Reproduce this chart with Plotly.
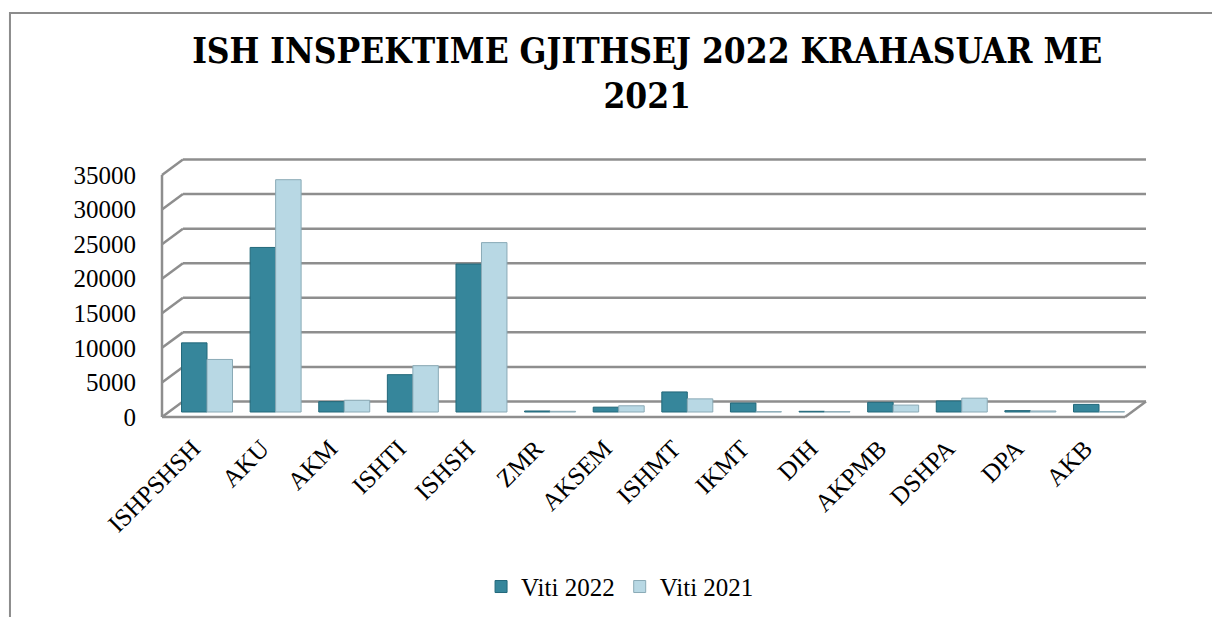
import plotly.graph_objects as go

categories = ["ISHPSHSH", "AKU", "AKM", "ISHTI", "ISHSH", "ZMR", "AKSEM",
              "ISHMT", "IKMT", "DIH", "AKPMB", "DSHPA", "DPA", "AKB"]
viti_2022 = [10000, 23800, 1500, 5400, 21400, 150, 700, 2900, 1300, 100, 1400, 1600, 200, 1100]
viti_2021 = [7600, 33600, 1700, 6700, 24500, 100, 900, 1900, 50, 50, 1000, 2000, 150, 50]
y_ticks = [0, 5000, 10000, 15000, 20000, 25000, 30000, 35000]

title_text = "ISH INSPEKTIME GJITHSEJ 2022 KRAHASUAR ME<br>2021"
FONT = "Liberation Serif"
TITLE_FONT = "DejaVu Serif Condensed, DejaVu Serif, Liberation Serif, serif"

C2022 = "#36869b"
C2021 = "#b8d8e4"
GRID = "#8e8e8e"

fig = go.Figure()
fig.add_trace(go.Bar(x=categories, y=viti_2022, name="Viti 2022",
                     marker=dict(color=C2022, line=dict(color="#22687a", width=1))))
fig.add_trace(go.Bar(x=categories, y=viti_2021, name="Viti 2021",
                     marker=dict(color=C2021, line=dict(color="#8aaab6", width=1))))

# pseudo-3D frame (back wall gridlines, left wall diagonals, floor)
depth_x = 0.0213      # fraction of plot width
depth_y = 2240        # axis units (front -> back)
shapes = []
for v in y_ticks:
    shapes.append(dict(type="line", xref="x domain", yref="y2", x0=0, y0=v, x1=depth_x, y1=v + depth_y,
                       line=dict(color=GRID, width=2.5), layer="below"))
    shapes.append(dict(type="line", xref="x domain", yref="y2", x0=depth_x, y0=v + depth_y, x1=1, y1=v + depth_y,
                       line=dict(color=GRID, width=2.5), layer="below"))
# front left edge
shapes.append(dict(type="line", xref="x domain", yref="y2", x0=0, y0=0, x1=0, y1=y_ticks[-1],
                   line=dict(color=GRID, width=2.5), layer="below"))
# floor front edge and right diagonal
shapes.append(dict(type="line", xref="x domain", yref="y2", x0=0, y0=0, x1=0.9787, y1=0,
                   line=dict(color=GRID, width=2.5), layer="below"))
shapes.append(dict(type="line", xref="x domain", yref="y2", x0=0.9787, y0=0, x1=1, y1=depth_y,
                   line=dict(color=GRID, width=2.5), layer="below"))
# outer chart border (left and top)
shapes.append(dict(type="path", xref="paper", yref="paper",
                   path="M -0.1545 -0.8 L -0.1545 1.5037 L 1.2 1.5037",
                   line=dict(color="#8c8c8c", width=2)))

fig.update_layout(
    width=1212, height=617,
    margin=dict(l=162, r=66, t=150, b=195),
    paper_bgcolor="white", plot_bgcolor="white",
    font=dict(family=FONT, size=25, color="black"),
    title=dict(text=title_text, font=dict(family=TITLE_FONT, size=35, color="black", weight=700),
               x=0.534, xref="container", xanchor="center", y=0.898, yref="container", yanchor="middle"),
    barmode="group", bargap=0.257, bargroupgap=0,
    showlegend=True,
    legend=dict(orientation="h", x=0.5116, xref="container", xanchor="center",
                y=0.049, yref="container", yanchor="middle",
                font=dict(family=FONT, size=25), itemwidth=30, traceorder="normal"),
    xaxis=dict(type="category", range=[-0.656, 13.685], tickangle=-45, showgrid=False,
               zeroline=False, showline=False, ticks="", ticklabelstandoff=6, ticklabelshift=-14,
               tickfont=dict(family=FONT, size=25)),
    yaxis=dict(range=[-1446, 37894], showticklabels=False, showgrid=False, zeroline=False,
               showline=False, ticks=""),
    yaxis2=dict(range=[-723, 38616], overlaying="y", side="left", anchor="x",
                tickvals=y_ticks, ticktext=[str(t) for t in y_ticks],
                showgrid=False, zeroline=False, showline=False, ticks="",
                ticklabelstandoff=25, tickfont=dict(family=FONT, size=25)),
    shapes=shapes,
)
# invisible trace to activate yaxis2
fig.add_trace(go.Scatter(x=[categories[0]], y=[0], yaxis="y2", mode="markers",
                         marker=dict(opacity=0), showlegend=False, hoverinfo="skip"))

fig.write_html("out.html", config={"displayModeBar": False})

# remove default page margin so the figure fills the window exactly
with open("out.html", "r", encoding="utf-8") as f:
    html = f.read()
html = html.replace("<body>", '<body style="margin:0;padding:0;overflow:hidden">', 1)
with open("out.html", "w", encoding="utf-8") as f:
    f.write(html)
